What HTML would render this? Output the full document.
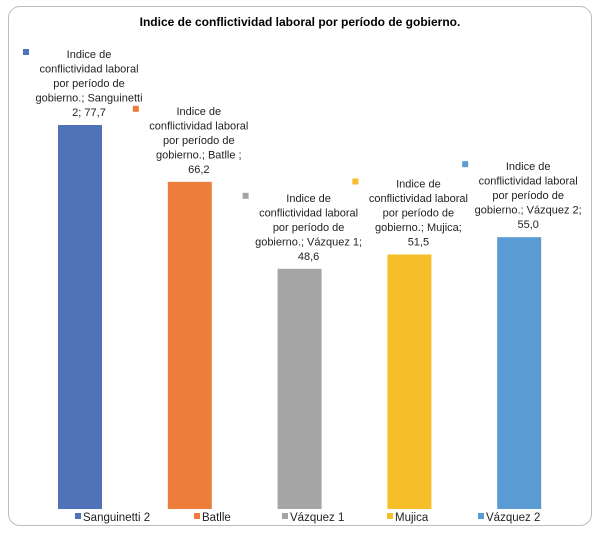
<!DOCTYPE html>
<html><head><meta charset="utf-8"><style>
body{margin:0;background:#fff;width:600px;height:536px;overflow:hidden;font-family:"Liberation Sans",sans-serif}
#frame{position:absolute;left:8px;top:6px;width:584px;height:520px;border:1px solid #bdbdbd;border-radius:12px;box-sizing:border-box}
</style></head><body>
<div id="frame"></div>
<svg id="chart" width="600" height="536" style="position:absolute;left:0;top:0">
<text x="300" y="26" text-anchor="middle" font-size="12" font-weight="bold" fill="#000">Indice de conflictividad laboral por período de gobierno.</text>
</svg>
<script>
const categories=["Sanguinetti 2","Batlle","Vázquez 1","Mujica","Vázquez 2"];
const values=[77.7,66.2,48.6,51.5,55.0];
const valueLabels=["77,7","66,2","48,6","51,5","55,0"];
const catLabelLines=["gobierno.; Sanguinetti|2; 77,7","gobierno.; Batlle ;|66,2","gobierno.; Vázquez 1;|48,6","gobierno.; Mujica;|51,5","gobierno.; Vázquez 2;|55,0"];
const colors=["#4f72b8","#ec7d3a","#a5a5a5","#f6bf2a","#5b9bd4"];
const legendX=[75,194,282,387,478];
const NS="http://www.w3.org/2000/svg";
const svg=document.getElementById('chart');
const base=509,scale=384/77.7;
const y=v=>base-v*scale;
const xc=i=>80+i*109.8;
function mk(t,a){const e=document.createElementNS(NS,t);for(const k in a)e.setAttribute(k,a[k]);svg.appendChild(e);return e;}
values.forEach((v,i)=>{
  const r=mk('rect',{x:xc(i)-22,y:y(v),width:44,height:base-y(v),fill:colors[i]});
  
  
  const lines=["Indice de","conflictividad laboral","por período de"].concat(catLabelLines[i].split('|'));
  lines[4]=lines[4].replace(/[\d,]+$/,valueLabels[i]);
  const first=y(v)-67, cx=xc(i)+9;
  const t=mk('text',{'text-anchor':'middle','font-size':11,fill:'#222'});
  
  
  lines.forEach((l,j)=>{const s=document.createElementNS(NS,'tspan');s.setAttribute('x',cx);s.setAttribute('y',first+j*14.5);s.textContent=l;t.appendChild(s);});
  const m=mk('rect',{x:cx-66,y:first-9,width:6,height:6,fill:colors[i]});
  
  
  const ls=mk('rect',{x:legendX[i],y:513,width:6,height:6,fill:colors[i]});
  
  
  const lt=mk('text',{x:legendX[i]+8,y:521,'font-size':11.5,fill:'#222'});
  lt.textContent=categories[i];
  
  
});
</script>
</body></html>
